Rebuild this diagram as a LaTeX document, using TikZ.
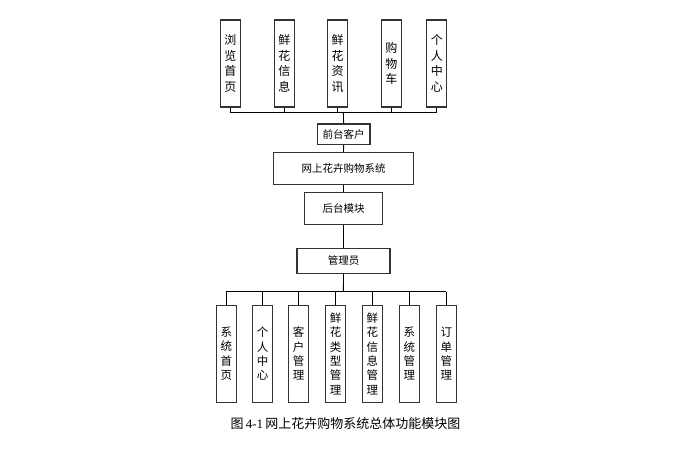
\documentclass[tikz,border=0pt]{standalone}
\usepackage{fontspec}
\setmainfont{Noto Sans CJK SC}
\newfontfamily\latinserif{Liberation Serif}
\begin{document}
\begin{tikzpicture}[x=1pt,y=-1pt,
  box/.style={draw=black!80,line width=1.1pt,inner sep=0pt,fill=white},
  vtop/.style={box,minimum width=20pt,minimum height=87pt,align=center,font=\fontsize{12}{15.6}\selectfont},
  vbot/.style={box,minimum width=19.5pt,minimum height=97.3pt,align=center,font=\fontsize{11.5}{14.3}\selectfont},
  hbox/.style={box,font=\fontsize{10.5}{12}\selectfont},
  conn/.style={draw=black,line width=0.9pt}]
\useasboundingbox (0,0) rectangle (688,451);
% top boxes
\node[vtop] (t1) at (230.3,63.5) {浏\\览\\首\\页};
\node[vtop] (t2) at (284.3,63.5) {鲜\\花\\信\\息};
\node[vtop] (t3) at (337.7,63.5) {鲜\\花\\资\\讯};
\node[vtop] (t4) at (391.3,63.5) {购\\物\\车};
\node[vtop] (t5) at (436.8,63.5) {个\\人\\中\\心};
\coordinate (tbus) at (343.4,112.7);
% middle chain
\node[hbox,minimum width=52.7pt,minimum height=20.7pt] (qt) at (343.6,134.3) {前台客户};
\node[hbox,minimum width=139.6pt,minimum height=32pt] (sys) at (343.5,168.3) {网上花卉购物系统};
\node[hbox,minimum width=77.6pt,minimum height=32pt] (ht) at (343.5,208.3) {后台模块};
\node[hbox,minimum width=93pt,minimum height=25pt] (gly) at (343.5,260.8) {管理员};
\coordinate (bbus) at (343.4,291.7);
% bottom boxes
\node[vbot] (b1) at (226.3,353.7) {系\\统\\首\\页};
\node[vbot] (b2) at (262.5,353.7) {个\\人\\中\\心};
\node[vbot] (b3) at (298.5,353.7) {客\\户\\管\\理};
\node[vbot] (b4) at (335.5,353.7) {鲜\\花\\类\\型\\管\\理};
\node[vbot] (b5) at (372.3,353.7) {鲜\\花\\信\\息\\管\\理};
\node[vbot] (b6) at (409.3,353.7) {系\\统\\管\\理};
\node[vbot] (b7) at (446.3,353.7) {订\\单\\管\\理};
% connectors top
\foreach \n in {t1,t2,t3,t4,t5} \draw[conn] (\n.south) -- (\n.south |- tbus);
\draw[conn] (t1.south |- tbus) -- (t5.south |- tbus);
\draw[conn] (tbus) -- (qt.north);
\draw[conn] (qt.south) -- (sys.north);
\draw[conn] (sys.south) -- (ht.north);
\draw[conn] (ht.south) -- (gly.north);
\draw[conn] (gly.south) -- (bbus);
\draw[conn] (b1.north |- bbus) -- (b7.north |- bbus);
\foreach \n in {b1,b2,b3,b4,b5,b6,b7} \draw[conn] (\n.north |- bbus) -- (\n.north);
% caption
\node[font=\fontsize{13}{15}\selectfont,inner sep=0pt] (cap) at (345.5,424) {图\,{\latinserif 4-1}\,网上花卉购物系统总体功能模块图};
\end{tikzpicture}
\end{document}
